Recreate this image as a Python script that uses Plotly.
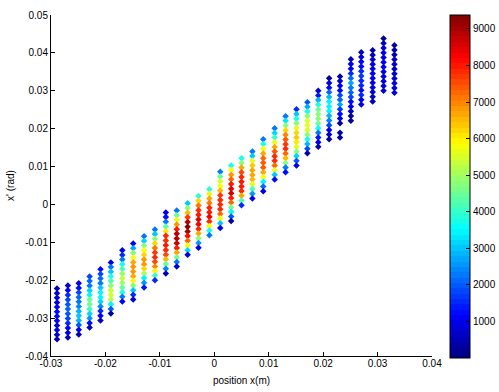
"""Phase space scatter: position x against x', coloured by particle count."""

import numpy as np
import plotly.graph_objects as go

# column positions (m), top and bottom of each column (rad)
COLUMN_X = [
    -0.0289, -0.0269, -0.0249, -0.0229, -0.0209, -0.0190, -0.0169, -0.0149,
    -0.0129, -0.0109, -0.0089, -0.0069, -0.0049, -0.0029, -0.0009, 0.0011,
    0.0031, 0.0050, 0.0070, 0.0090, 0.0111, 0.0131, 0.0151, 0.0171,
    0.0191, 0.0211, 0.0231, 0.0251, 0.0270, 0.0291, 0.0311, 0.0331,
]
COLUMN_TOP = [
    -0.0222, -0.0214, -0.0208, -0.0190, -0.0171, -0.0153, -0.0121, -0.0103,
    -0.0084, -0.0066, -0.0021, -0.0016, 0.0003, 0.0022, 0.0040, 0.0086,
    0.0103, 0.0122, 0.0140, 0.0172, 0.0201, 0.0233, 0.0251, 0.0270,
    0.0300, 0.0333, 0.0338, 0.0383, 0.0402, 0.0407, 0.0438, 0.0420,
]
COLUMN_BOTTOM = [
    -0.0356, -0.0351, -0.0343, -0.0325, -0.0306, -0.0288, -0.0256, -0.0251,
    -0.0219, -0.0200, -0.0182, -0.0164, -0.0133, -0.0114, -0.0081, -0.0062,
    -0.0044, -0.0002, 0.0016, 0.0035, 0.0066, 0.0085, 0.0103, 0.0135,
    0.0152, 0.0172, 0.0177, 0.0221, 0.0264, 0.0272, 0.0300, 0.0295,
]
# counts per column, top to bottom; None is an empty bin
COLUMN_COUNTS = [
    [500, 800, 900, 1000, 1100, 1200, 1200, 1100, 1000, 900, 700, 400],
    [800, 1100, 1500, 1800, 2000, 2100, 2000, 1800, 1500, 1100, 800, 500],
    [1000, 1300, 1800, 2100, 2300, 2400, 2800, 3000, 2900, 2000, 1100, 500],
    [1900, 2100, 2300, 3100, 3500, 4500, 4500, 4000, 3100, 2600, 1200, 500],
    [1200, 1800, 2100, 2300, 3000, 3400, 3500, 3100, 2400, 1600, 1100, 600],
    [1000, 2200, 3000, 3800, 4200, 4700, 5300, 5500, 5200, 3500, 2000, 400],
    [1000, 1600, 2200, 3700, 4200, 4900, 5300, 4900, 4400, 3800, 2300, 1100],
    [1100, 2700, 4700, 5800, 6600, 6800, 6800, 6600, 6000, 4800, 3000, 1500, 700],
    [2200, 3100, 4800, 5800, 6300, 6800, 6800, 6200, 5000, 3500, 2500, 1400],
    [2200, 3000, 4700, 6300, 7100, 7700, 7800, 7600, 7000, 5900, 4000, 1500],
    [900, 1300, 2300, 4300, 6100, 7800, 7900, 8000, 7900, 7500, 6500, 4400, 2400, 500],
    [2300, 4500, 5700, 6800, 8000, 8800, 8900, 8700, 8000, 6700, 4600, 2300, 800],
    [3000, 4800, 6500, 7700, 8800, 9300, 9000, 8200, 7300, 5800, 3100, 800],
    [3900, 6200, 7100, 7900, 8000, 8400, 8300, 7800, 6700, 4800, 2500, 1000],
    [3900, 5600, 6700, 7100, 7900, 8000, 8300, 7900, 5800, 3800, 2200],
    [2300, 4400, 5500, 5800, 6500, 7700, 7900, 7900, 7900, 7300, 5800, 3000, 1000],
    [3800, 5800, 6800, 7300, 8000, 8500, 8600, 8000, 7200, 4600, 3500, 2000, 400],
    [3800, 4700, 6700, 7500, 7900, 8000, 8000, 7800, 6700, 4200, 1500],
    [2200, 3000, 5700, 6400, 6700, 6700, 6500, 5700, 4200, 2500, 1100],
    [2200, 3800, 5800, 6600, 7200, 7400, 7400, 6700, 5800, 3500, 2100, 900],
    [2300, 3100, 4000, 5700, 6600, 7400, 7800, 7900, 7300, 5700, 3000, 1200],
    [2200, 3300, 4700, 6300, 7000, 7400, 7700, 7800, 7300, 6500, 4800, 2300, 1200],
    [1500, 3000, 3800, 4700, 5600, 6200, 6400, 6100, 5600, 4700, 3100, 2000, 1000],
    [2000, 2700, 3800, 4700, 5500, 5700, 5500, 4700, 3800, 2900, 1800, 400],
    [800, 1400, 2900, 3800, 4400, 4700, 4800, 4500, 3600, 2300, 1400, 900, 500],
    [400, 800, 1300, 2100, 2900, 3400, 3500, 3400, 2900, 2400, 1900, 1100, 700, 400],
    [400, 800, 1000, 1300, 1800, 2100, 2700, 1700, 1300, 900, 400, None, 300, 300],
    [500, 900, 1100, 1600, 2100, 2700, 2200, 2100, 1800, 1300, 1000, 600, 400, 300],
    [500, 800, 1100, 1200, 1600, 1700, 1500, 1500, 1200, 1500, 1100, 1000],
    [300, 500, 800, 900, 1100, 1100, 1100, 1000, 1000, 800, 600, 500],
    [400, 500, 800, 900, 1000, 1100, 1100, 1000, 1000, 900, 800, 800],
    [400, 400, 500, 600, 600, 600, 700, 800, 900, 1000, 1000],
]

X_TICKS = [-0.03, -0.02, -0.01, 0, 0.01, 0.02, 0.03, 0.04]
X_LABELS = ['-0.03', '-0.02', '-0.01', '0', '0.01', '0.02', '0.03', '0.04']
Y_TICKS = [-0.04, -0.03, -0.02, -0.01, 0, 0.01, 0.02, 0.03, 0.04, 0.05]
Y_LABELS = ['-0.04', '-0.03', '-0.02', '-0.01', '0', '0.01', '0.02', '0.03', '0.04', '0.05']
BAR_TICKS = [1000, 2000, 3000, 4000, 5000, 6000, 7000, 8000, 9000]

COUNT_MIN = 0
COUNT_MAX = 9380
FONT = {'family': 'Liberation Sans, Arial, sans-serif', 'size': 10, 'color': 'black'}


def jet_scale(levels=64):
    """Stepped copy of the MATLAB jet colormap as a Plotly colorscale."""
    scale = []
    for i in range(levels):
        t = (i + 0.5) / levels
        rgb = [np.clip(1.5 - abs(4 * t - k), 0, 1) for k in (3, 2, 1)]
        color = 'rgb({},{},{})'.format(*[int(round(255 * c)) for c in rgb])
        scale.append([i / levels, color])
        scale.append([(i + 1) / levels, color])
    return scale


xs, ys, counts = [], [], []
for col_x, top, bottom, col_counts in zip(COLUMN_X, COLUMN_TOP, COLUMN_BOTTOM, COLUMN_COUNTS):
    for y, count in zip(np.linspace(top, bottom, len(col_counts)), col_counts):
        # empty bins leave a hole in the column
        if count is None:
            continue
        xs.append(col_x)
        ys.append(y)
        counts.append(count)

fig = go.Figure(go.Scatter(
    x=xs,
    y=ys,
    mode='markers',
    marker={
        'symbol': 'diamond',
        'size': 5,
        'color': counts,
        'cmin': COUNT_MIN,
        'cmax': COUNT_MAX,
        'colorscale': jet_scale(),
        'line': {'width': 0},
        'colorbar': {
            'thickness': 20,
            'thicknessmode': 'pixels',
            'len': 343,
            'lenmode': 'pixels',
            'x': 1.0472,
            'xanchor': 'left',
            'y': 0.497,
            'yanchor': 'middle',
            'xpad': 0,
            'ypad': 0,
            'outlinecolor': 'black',
            'outlinewidth': 1,
            'ticks': 'inside',
            'ticklen': 4,
            'tickcolor': 'black',
            'tickvals': BAR_TICKS,
            'tickfont': FONT,
        },
    },
))

fig.update_layout(
    width=499,
    height=392,
    autosize=False,
    margin={'l': 51, 'r': 67, 't': 15, 'b': 36, 'autoexpand': False},
    plot_bgcolor='white',
    paper_bgcolor='white',
    font=FONT,
    showlegend=False,
    xaxis={
        'range': [-0.03, 0.04],
        'tickvals': X_TICKS,
        'ticktext': X_LABELS,
        'ticks': 'inside',
        'ticklen': 4,
        'tickcolor': 'black',
        'ticklabelstandoff': -2,
        'showline': True,
        'linecolor': 'black',
        'showgrid': False,
        'zeroline': False,
        'title': {'text': 'position x(m)', 'standoff': 8, 'font': FONT},
    },
    yaxis={
        'range': [-0.04, 0.05],
        'tickvals': Y_TICKS,
        'ticktext': Y_LABELS,
        'ticks': 'inside',
        'ticklen': 4,
        'tickcolor': 'black',
        'showline': True,
        'linecolor': 'black',
        'showgrid': False,
        'zeroline': False,
        'title': {'text': "x' (rad)", 'standoff': 8, 'font': FONT},
    },
)

fig.write_html(
    "out.html",
    config={'displayModeBar': False},
    post_script="document.body.style.margin = '0';",
)
